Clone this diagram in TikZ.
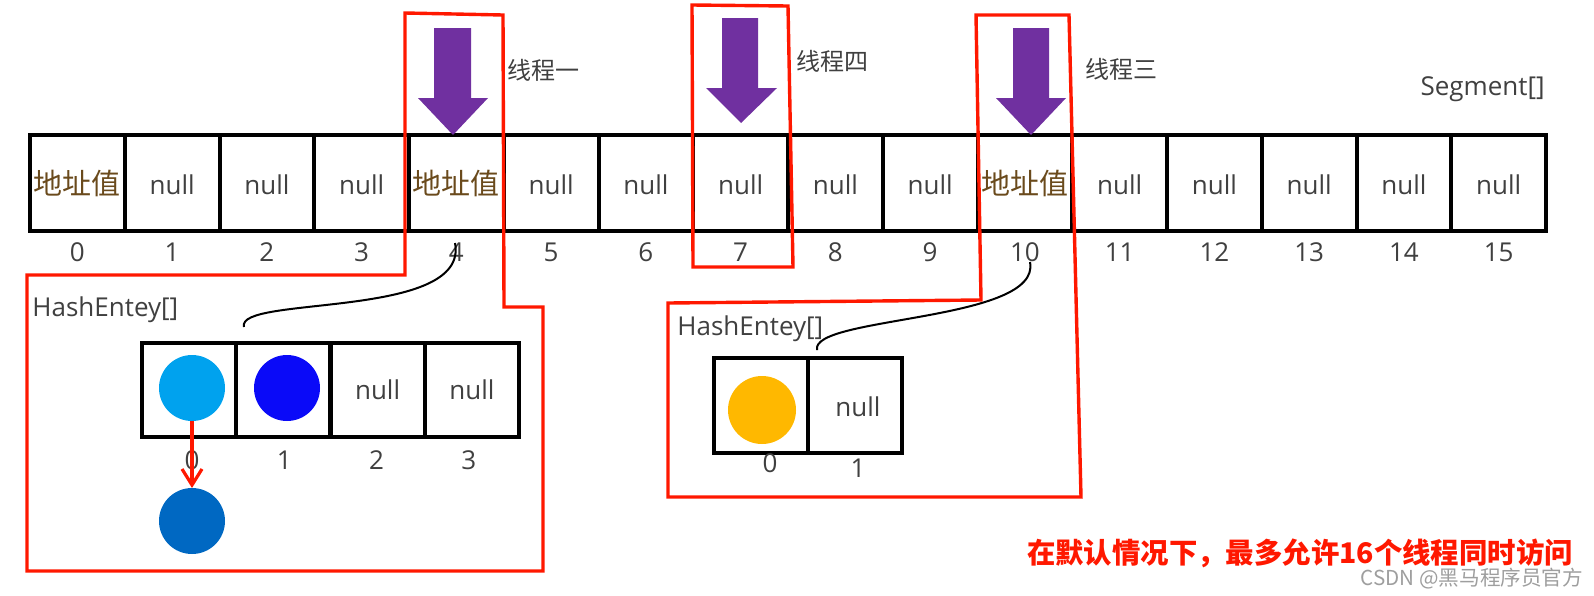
\documentclass[tikz,border=0pt]{standalone}
\usepackage{fontspec}
\setmainfont{Open Sans}
\newfontfamily\cjk{Noto Sans CJK SC}
\usetikzlibrary{arrows.meta}
\definecolor{tpurple}{HTML}{7030A0}
\definecolor{boxred}{HTML}{FF1800}
\definecolor{textgray}{HTML}{404040}
\definecolor{addrcol}{HTML}{6A4A1C}
\definecolor{lblue}{HTML}{00A2EE}
\definecolor{mblue}{HTML}{0A0AF8}
\definecolor{dblue}{HTML}{0068C2}
\definecolor{gold}{HTML}{FFB800}
\begin{document}
\begin{tikzpicture}[x=0.5pt,y=-0.5pt,
  segcell/.style={draw=black, line width=2pt, minimum width=47.375pt, minimum height=48pt,
     inner sep=0pt, outer sep=0pt, font=\fontsize{13}{15}\selectfont, text=textgray},
  hashcell/.style={draw=black, line width=2pt, minimum width=47.1pt, minimum height=47pt,
     inner sep=0pt, outer sep=0pt, font=\fontsize{13}{15}\selectfont, text=textgray},
  idx/.style={font=\fontsize{13}{15}\selectfont, text=textgray, inner sep=0pt},
  addr/.style={font=\cjk\fontsize{14.5}{16}\selectfont, text=addrcol},
  thread/.style={font=\cjk\fontsize{12}{14}\selectfont, text=textgray, inner sep=0pt},
  lbl/.style={font=\fontsize{13}{15}\selectfont, text=textgray, inner sep=0pt},
  redbox/.style={draw=boxred, line width=1.7pt, line join=miter},
  thrarrow/.style={fill=tpurple},
  entry/.style={circle, minimum size=33pt, inner sep=0pt, outer sep=0pt},
  link/.style={draw=black, line width=1pt},
]
\useasboundingbox (0,0) rectangle (1594,595);

% Segment array
\foreach \i in {0,...,15} {
  \node[segcell] (s\i) at ({77.4+94.75*\i},183) {};
  \node[idx] (i\i) at ({77.4+94.75*\i},252) {\i};
}
\foreach \i in {1,2,3,5,6,7,8,9,11,12,13,14,15} {
  \node[segcell, draw=none, text=textgray] at ([yshift=-1pt]s\i) {null};
}
\node[addr] at (s0) {地址值};
\node[addr] at (s4) {地址值};
\node[addr] at (s10) {地址值};

\node[lbl, anchor=base east] (seglbl) at (1545,95) {Segment[]};

% thread arrows
\fill[thrarrow] (434,28) -- (471,28) -- (471,98) -- (488,98) -- (453,135) -- (418,98) -- (434,98) -- cycle;
\fill[thrarrow] (722,18) -- (758,18) -- (758,88) -- (777,88) -- (741,123) -- (706,88) -- (722,88) -- cycle;
\fill[thrarrow] (1013,28) -- (1049,28) -- (1049,98) -- (1066,98) -- (1031,135) -- (996,98) -- (1013,98) -- cycle;

\node[thread] (t1) at (543,70) {线程一};
\node[thread] (t4) at (832,61) {线程四};
\node[thread] (t3) at (1121,69) {线程三};

% Left HashEntry array
\node[lbl, anchor=base west] (hl) at (32,316) {HashEntey[]};
\foreach \j in {0,...,3} {
  \node[hashcell] (h\j) at ({189.1+94.25*\j},390) {};
  \node[idx] (hi\j) at ({192+92.3*\j},460) {\j};
}
\node[hashcell, draw=none] at (h2) {null};
\node[hashcell, draw=none] at (h3) {null};
\node[entry, fill=lblue] (e0) at (192,388) {};
\node[entry, fill=mblue] (e1) at (287,388) {};
\node[entry, fill=dblue] (e0b) at (192,521) {};
\draw[draw=boxred, line width=1.6pt, -{Straight Barb[length=8pt,width=10pt,line width=1.6pt]}]
  (e0.south) -- (e0b.north);

% Right HashEntry array
\node[lbl, anchor=base west] (hr) at (677,335) {HashEntey[]};
\node[hashcell, minimum width=47pt, minimum height=47.5pt] (r0) at (761,405.5) {};
\node[hashcell, minimum width=47pt, minimum height=47.5pt] (r1) at (855,405.5) {};
\node[hashcell, draw=none] at (858,407) {null};
\node[entry, fill=gold, minimum size=34pt] (y0) at (762,410) {};
\node[idx] (ri0) at (770,463) {0};
\node[idx] (ri1) at (858,468) {1};

% connectors
\coordinate (c4) at (455,243);
\coordinate (c4e) at (244,327);
\draw[link] (c4) .. controls (470,320) and (235,295) .. (c4e);
\coordinate (c10) at (1030,262);
\coordinate (c10e) at (817,350);
\draw[link] (c10) .. controls (1042,322) and (810,316) .. (c10e);

% red outlines
\draw[redbox] (405,13) -- (503,15) -- (504,307) -- (543,307) -- (543,571) -- (27,571) -- (27,275) -- (405,275) -- cycle;
\draw[redbox] (692,5) -- (788,6) -- (793,267) -- (693,267) -- cycle;
\draw[redbox] (976,15) -- (1069,15) -- (1081,497) -- (668,497) -- (668,303) -- (981,300) -- cycle;

% bottom text
\node[font=\cjk\bfseries\fontsize{14.2}{16}\selectfont, text=boxred, inner sep=0pt] (note) at (1300,553)
  {在默认情况下，最多允许16个线程同时访问};
\node[font=\cjk\fontsize{10.3}{12}\selectfont, text=black!38, inner sep=0pt] (wm) at (1472,579)
  {CSDN @黑马程序员官方};
\end{tikzpicture}
\end{document}
